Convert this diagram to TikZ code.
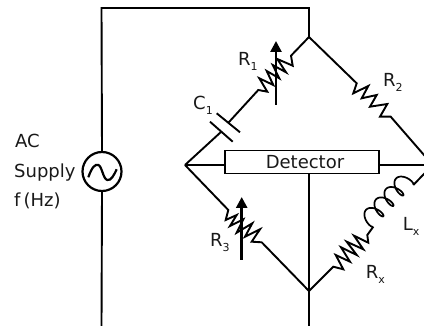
\documentclass[tikz,border=0pt]{standalone}
\usepackage{fontspec}
\setmainfont{DejaVu Sans}
\usetikzlibrary{arrows.meta}
\newcommand{\lbl}[2]{#1\raisebox{-5pt}{\fontsize{11}{11}\selectfont #2}}
\tikzset{
  wire/.style={line width=1.9pt,line join=miter,black},
  adj/.style={line width=2.6pt,-{Triangle[length=11pt,width=11pt]}},
  txt/.style={inner sep=0pt,anchor=base west,font=\fontsize{18}{20}\selectfont,text=black!90}
}
\begin{document}
\begin{tikzpicture}[x=1pt,y=-1pt]
\useasboundingbox (0,0) rectangle (424,326);
\clip (0,0) rectangle (424,326);
\coordinate (T) at (309,37);
\coordinate (L) at (185,165);
\coordinate (R) at (432.7,165);
\coordinate (B) at (309,291);
\coordinate (TL) at (101.5,8);
\coordinate (TR) at (309,8);
\coordinate (BL) at (101.5,326);
\coordinate (BR) at (309,326);
\coordinate (C1a) at (221.3,131.7);
\coordinate (C1b) at (228.3,122.8);
\node[wire,draw,circle,line width=2.2pt,minimum size=39pt,inner sep=0pt] (src) at (102,171.5) {};
\node[wire,draw,fill=white,minimum width=154pt,minimum height=23pt,inner sep=0pt,font=\fontsize{18}{20}\selectfont,text=black!90] (det) at (302,162) {\hspace{6pt}Detector};
% supply wires
\draw[wire] (src.north) -- (TL) -- (TR) -- (T);
\draw[wire] (src.south) -- (BL);
\draw[wire] (B) -- (BR);
% sine
\draw[wire,line width=2.2pt] (88.3,177.3) .. controls (92,167) and (95,164) .. (98.3,165) .. controls (102,166) and (103,179) .. (107.3,180) .. controls (111,181) and (114,175) .. (116.7,169.3);
% detector links
\draw[wire] (L) -- (L -| det.west);
\draw[wire] (R) -- (R -| det.east);
\draw[wire] (T |- det.south) -- (B);
% C1
\draw[wire] (L) -- (C1a);
\draw[wire] (216.7,113.3) -- (240,132.3);
\draw[wire] (210,121.7) -- (232.7,141.7);
% R1
\draw[wire] (C1b) -- (258.3,90) -- (267.3,91.7) -- (259.3,78.3) -- (273.3,85) -- (266.7,71) -- (279.3,78.3) -- (272.7,65) -- (286,72.3) -- (277.3,59) -- (292.7,65.7) -- (291,55.7) -- (T);
\draw[adj] (276,105) -- (276,41);
% R2
\draw[wire] (T) -- (356.7,83.3) -- (353.3,93.3) -- (368.3,86) -- (361.7,98.3) -- (376.7,95) -- (370,106.7) -- (387.3,104) -- (380,116.7) -- (390.7,116.7) -- (R);
% R3
\draw[wire] (L) -- (228.3,210) -- (225.7,220) -- (236.7,215) -- (230,226) -- (243.3,219.3) -- (236.7,232.7) -- (252.3,223.3) -- (245,236.7) -- (260,229.3) -- (251.7,241.7) -- (261.7,242.3) -- (B);
\draw[adj] (241.7,260) -- (241.7,197);
% Rx
\draw[wire] (B) -- (333.3,266.7) -- (343.3,269.3) -- (335.7,255) -- (350,261.7) -- (341,247.3) -- (356.7,255) -- (346.7,241.7) -- (363.3,249.3) -- (354,235.7) -- (368.3,242.7) -- (367.3,235) -- (373.3,226.7);
% Lx coil
\draw[line width=1.7pt] plot[smooth,domain=0:1440,samples=120,variable=\t]
  ({373.3 + 0.69*(\t/360*14.5-4.5*sin(\t)) - 0.72*(8.5*(1-cos(\t)))},
   {226.7 - 0.72*(\t/360*14.5-4.5*sin(\t)) - 0.69*(8.5*(1-cos(\t)))});
\coordinate (Lend) at (413.3,185);
\draw[wire] (Lend) -- (R);
% labels
\node[txt] (lr1) at (238,65.6) {\lbl{R}{1}};
\node[txt] (lc1) at (193,110) {\lbl{C}{1}};
\node[txt] (lr2) at (383,87) {\lbl{R}{2}};
\node[txt] (lr3) at (210,246.7) {\lbl{R}{3}};
\node[txt] (llx) at (402.7,231) {\lbl{L}{x}};
\node[txt] (lrx) at (365.7,279) {\lbl{R}{x}};
\node[txt] (l1) at (15,148) {AC};
\node[txt] (l2) at (14,177.5) {Supply};
\node[txt] (l3) at (14,207) {f\,(Hz)};
\end{tikzpicture}
\end{document}
